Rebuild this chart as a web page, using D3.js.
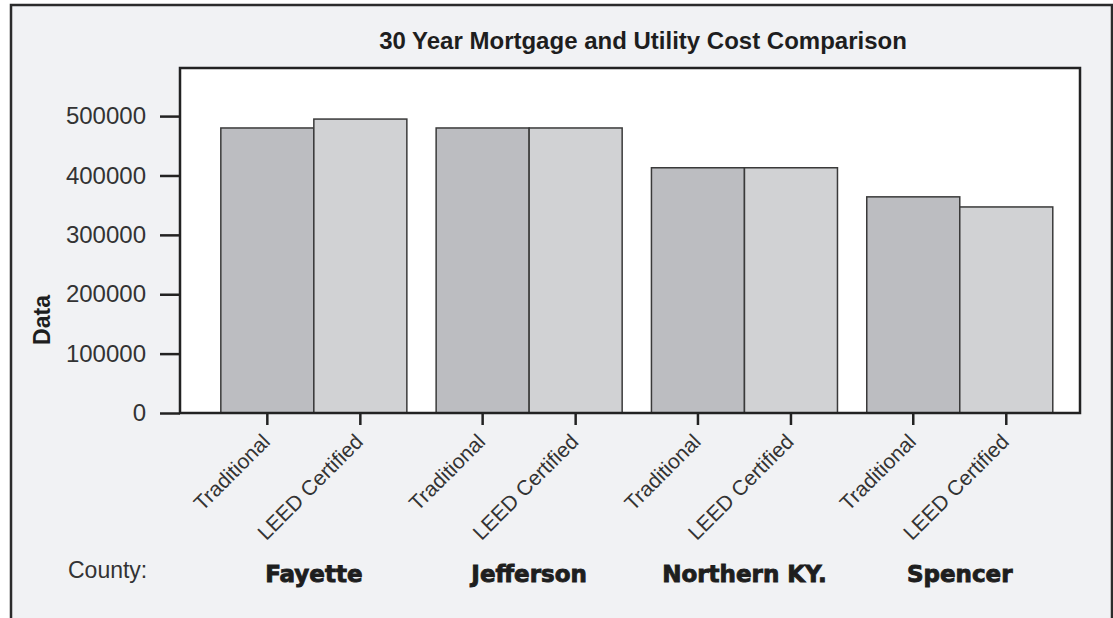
<!DOCTYPE html>
<html>
<head>
<meta charset="utf-8">
<script src="https://cdn.jsdelivr.net/npm/d3@7"></script>
<style>
	body { margin: 0; background: #ffffff; }
	svg { display: block; }
</style>
</head>
<body>
<div id="canvas"></div>
<script>
// values
var counties = ["Fayette", "Jefferson", "Northern KY.", "Spencer"];
var homeTypes = ["Traditional", "LEED Certified"];
var traditionalCost = [480000, 480000, 413000, 364000];
var leedCost = [495000, 480000, 413000, 347000];
var yTicks = [0, 100000, 200000, 300000, 400000, 500000];

var w = 1113, h = 618;
var plot = {left: 180, top: 68, right: 1080, bottom: 413};

var svg = d3.select("#canvas")
	.append("svg")
	.attr("width", w)
	.attr("height", h);

// grey panel with dark frame
svg.append("rect")
	.attr("x", 11)
	.attr("y", 5)
	.attr("width", 1101)
	.attr("height", 640)
	.attr("fill", "#f1f2f4")
	.attr("stroke", "#2b2b2b")
	.attr("stroke-width", 2.5);

svg.append("rect")
	.attr("x", plot.left)
	.attr("y", plot.top)
	.attr("width", plot.right - plot.left)
	.attr("height", plot.bottom - plot.top)
	.attr("fill", "#ffffff");

var rows = counties.map(function(c, i){
	return {county: c, values: [
		{type: homeTypes[0], value: traditionalCost[i]},
		{type: homeTypes[1], value: leedCost[i]}
	]};
});

var x0 = d3.scaleBand()
	.domain(counties)
	.range([plot.left, plot.right])
	.paddingInner(0.136)
	.paddingOuter(0.158)
	.align(0.6);

var x1 = d3.scaleBand()
	.domain(homeTypes)
	.range([0, x0.bandwidth()]);

var y = d3.scaleLinear()
	.domain([0, 581000])
	.range([plot.bottom, plot.top]);

var fillScale = d3.scaleOrdinal()
	.domain(homeTypes)
	.range(["#bcbdc1", "#d1d2d4"]);

var groups = svg.selectAll(".county")
	.data(rows)
	.enter()
	.append("g")
	.attr("class", "county")
	.attr("transform", function(d){ return "translate(" + x0(d.county) + ",0)"; });

groups.selectAll("rect")
	.data(function(d){ return d.values; })
	.enter()
	.append("rect")
	.attr("x", function(d){ return x1(d.type); })
	.attr("y", function(d){ return y(d.value); })
	.attr("width", x1.bandwidth())
	.attr("height", function(d){ return y(0) - y(d.value); })
	.attr("fill", function(d){ return fillScale(d.type); })
	.attr("stroke", "#3a3a3a")
	.attr("stroke-width", 1.5);

// plot frame on top of bars
svg.append("rect")
	.attr("x", plot.left)
	.attr("y", plot.top)
	.attr("width", plot.right - plot.left)
	.attr("height", plot.bottom - plot.top)
	.attr("fill", "none")
	.attr("stroke", "#222222")
	.attr("stroke-width", 2.5);

// y axis
var yAxis = svg.append("g")
	.attr("transform", "translate(" + plot.left + ",0)")
	.call(d3.axisLeft(y).tickValues(yTicks).tickSizeInner(20).tickSizeOuter(0).tickPadding(14).tickFormat(d3.format("d")));
yAxis.select(".domain").remove();
yAxis.selectAll(".tick line").attr("stroke", "#222").attr("stroke-width", 2.5);
yAxis.selectAll(".tick text")
	.attr("font-family", "Liberation Sans, Arial, sans-serif")
	.attr("font-size", 24)
	.attr("fill", "#333");

// x axes, one per county
groups.each(function(d){
	var g = d3.select(this).append("g")
		.attr("transform", "translate(0," + plot.bottom + ")")
		.call(d3.axisBottom(x1).tickSizeInner(12).tickSizeOuter(0));
	g.select(".domain").remove();
	g.selectAll(".tick line").attr("stroke", "#222").attr("stroke-width", 2.5);
	g.selectAll(".tick text")
		.attr("x", 0)
		.attr("y", 0)
		.attr("dy", 0)
		.attr("text-anchor", "end")
		.attr("transform", "translate(4,30) rotate(-45)")
		.attr("font-family", "Liberation Sans, Arial, sans-serif")
		.attr("font-size", 21)
		.attr("fill", "#333");
});

// county names
svg.selectAll(".countyLabel")
	.data(counties)
	.enter()
	.append("text")
	.attr("class", "countyLabel")
	.attr("x", function(d){ return x0(d) + x0.bandwidth() / 2; })
	.attr("y", 582)
	.attr("text-anchor", "middle")
	.attr("font-family", "DejaVu Sans, sans-serif")
	.attr("font-weight", "bold")
	.attr("font-size", 23)
	.attr("fill", "#1e1e1e")
	.attr("stroke", "#1e1e1e")
	.attr("stroke-width", 0.9)
	.text(function(d){ return d; });

svg.append("text")
	.attr("x", 68)
	.attr("y", 578)
	.attr("font-family", "Liberation Sans, Arial, sans-serif")
	.attr("font-size", 23)
	.attr("fill", "#333")
	.text("County:");

svg.append("text")
	.attr("transform", "translate(50,320) rotate(-90)")
	.attr("text-anchor", "middle")
	.attr("font-family", "Liberation Sans, Arial, sans-serif")
	.attr("font-weight", "bold")
	.attr("font-size", 23)
	.attr("fill", "#1e1e1e")
	.text("Data");

svg.append("text")
	.attr("x", 643)
	.attr("y", 49)
	.attr("text-anchor", "middle")
	.attr("font-family", "Liberation Sans, Arial, sans-serif")
	.attr("font-weight", "bold")
	.attr("font-size", 24)
	.attr("fill", "#1e1e1e")
	.text("30 Year Mortgage and Utility Cost Comparison");
</script>
</body>
</html>
